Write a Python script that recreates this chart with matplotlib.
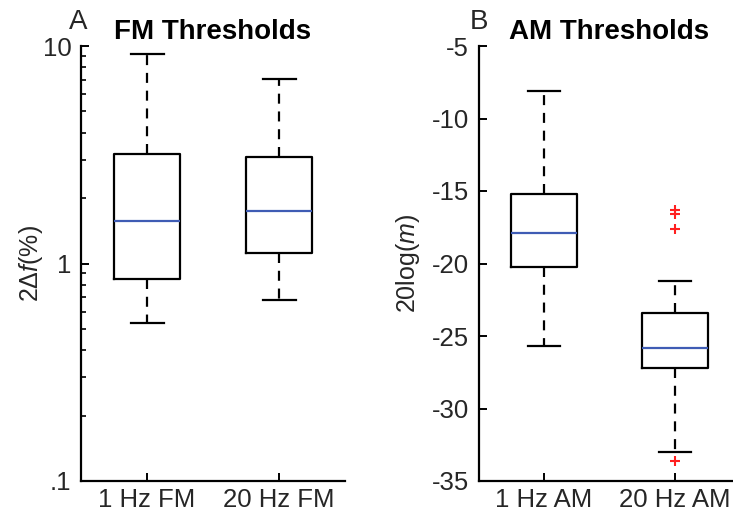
import matplotlib
matplotlib.use("Agg")
import matplotlib.pyplot as plt
from matplotlib.ticker import FixedLocator, LogLocator, NullFormatter

plt.rcParams['font.family'] = ['Liberation Sans', 'DejaVu Sans']
plt.rcParams['mathtext.fontset'] = 'custom'
plt.rcParams['mathtext.rm'] = 'Liberation Sans'
plt.rcParams['mathtext.it'] = 'Liberation Sans:italic'

# FM thresholds (2Δf %), box stats: whislo, q1, med, q3, whishi
fm_labels = ["1 Hz FM", "20 Hz FM"]
fm_whislo = [0.53, 0.68]
fm_q1 = [0.85, 1.12]
fm_med = [1.56, 1.75]
fm_q3 = [3.2, 3.1]
fm_whishi = [9.2, 7.06]
fm_fliers = [[], []]

# AM thresholds (20log(m))
am_labels = ["1 Hz AM", "20 Hz AM"]
am_whislo = [-25.7, -33.0]
am_q1 = [-20.25, -27.2]
am_med = [-17.9, -25.8]
am_q3 = [-15.2, -23.4]
am_whishi = [-8.1, -21.2]
am_fliers = [[], [-16.3, -16.6, -17.6, -33.65]]


def stats(labels, lo, q1, med, q3, hi, fl):
    return [dict(label=l, whislo=a, q1=b, med=c, q3=d, whishi=e, fliers=f)
            for l, a, b, c, d, e, f in zip(labels, lo, q1, med, q3, hi, fl)]


TXT = '#262626'
fig = plt.figure(figsize=(7.33, 5.14), dpi=100)
axL = fig.add_axes([81 / 733, 33 / 514, 264 / 733, 435 / 514])
axR = fig.add_axes([478.5 / 733, 33 / 514, 262 / 733, 435 / 514])

kw = dict(widths=0.5, showfliers=True,
          boxprops=dict(color='black', linewidth=1.6),
          whiskerprops=dict(color='black', linewidth=1.6, linestyle=(0, (4.5, 3.5))),
          capprops=dict(color='black', linewidth=1.6),
          medianprops=dict(color='#3f5cb4', linewidth=1.6),
          flierprops=dict(marker='+', markeredgecolor='#ff2020', markersize=7,
                          markeredgewidth=1.5, linestyle='none'))

axL.bxp(stats(fm_labels, fm_whislo, fm_q1, fm_med, fm_q3, fm_whishi, fm_fliers), **kw)
axR.bxp(stats(am_labels, am_whislo, am_q1, am_med, am_q3, am_whishi, am_fliers), **kw)

for ax in (axL, axR):
    ax.set_xlim(0.5, 2.5)
    for s in ('top', 'right'):
        ax.spines[s].set_visible(False)
    for s in ('left', 'bottom'):
        ax.spines[s].set_linewidth(1.6)
    ax.tick_params(direction='in', length=6, width=1.4, labelsize=18.5,
                   labelcolor=TXT, pad=7)
    ax.tick_params(axis='x', pad=5)

axL.set_yscale('log')
axL.set_ylim(0.1, 10)
axL.yaxis.set_major_locator(FixedLocator([0.1, 1, 10]))
axL.set_yticklabels(['.1', '1', '10'])
axL.yaxis.set_minor_locator(LogLocator(base=10, subs=range(2, 10)))
axL.yaxis.set_minor_formatter(NullFormatter())
axL.tick_params(which='minor', direction='in', length=3.5, width=1.2)
axL.set_ylabel(r'2Δ$\mathit{f}$(%)', fontsize=18, color=TXT, labelpad=-2)

axR.set_ylim(-35, -5)
axR.set_yticks([-35, -30, -25, -20, -15, -10, -5])
axR.set_yticklabels(['-35', '-30', '-25', '-20', '-15', '-10', '-5'])
axR.set_ylabel(r'20log($\mathit{m}$)', fontsize=18, color=TXT, labelpad=7)

axL.set_title('FM Thresholds', fontsize=20, fontweight='bold', pad=5)
axR.set_title('AM Thresholds', fontsize=20, fontweight='bold', pad=5)

fig.text(69 / 733, 1 - 22 / 514, 'A', fontsize=20, va='center', ha='left', color=TXT)
fig.text(470 / 733, 1 - 22 / 514, 'B', fontsize=20, va='center', ha='left', color=TXT)

fig.savefig('out.png', dpi=100)
